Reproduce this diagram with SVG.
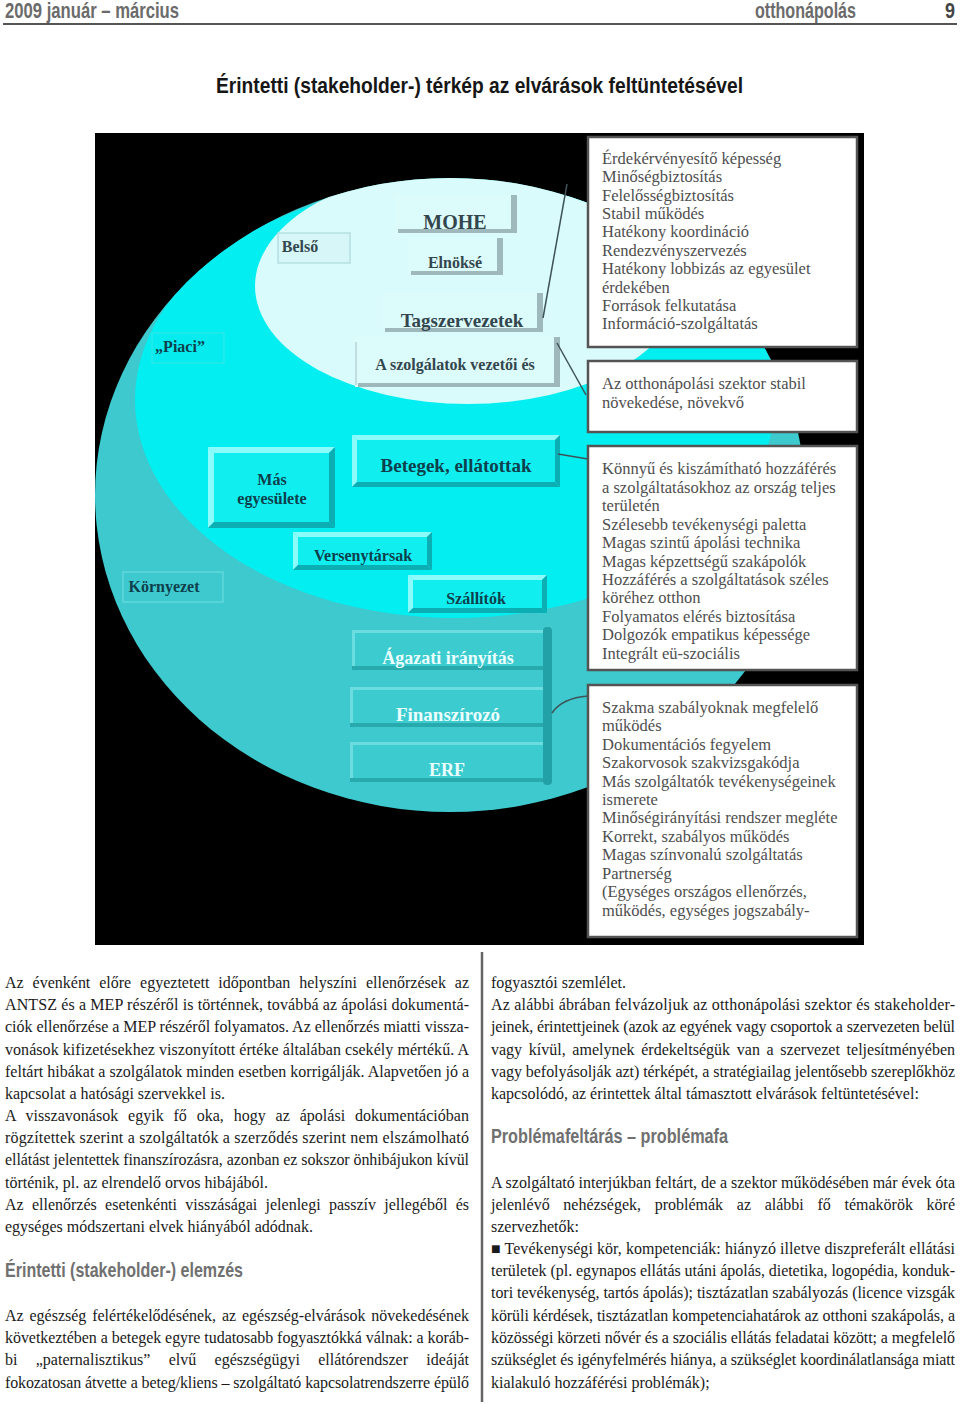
<svg xmlns="http://www.w3.org/2000/svg" width="960" height="1404" viewBox="0 0 960 1404">
<style>
.hdr{font-family:"Liberation Sans",Arial,sans-serif;font-weight:bold;font-size:22px;fill:#6b6b6b}
.ttl{font-family:"Liberation Sans",Arial,sans-serif;font-weight:bold;font-size:22px;fill:#161616}
.h2{font-family:"Liberation Sans",Arial,sans-serif;font-weight:bold;font-size:21px;fill:#707070}
.body{font-family:"Liberation Serif","Times New Roman",serif;font-size:16px;fill:#1a1a1a}
.lp{font-family:"Liberation Serif","Times New Roman",serif;font-weight:bold;fill:#34464d;text-anchor:middle}
.lc{font-family:"Liberation Serif","Times New Roman",serif;font-weight:bold;fill:#0e3f4c;text-anchor:middle}
.lw{font-family:"Liberation Serif","Times New Roman",serif;font-weight:bold;fill:#eaffff;text-anchor:middle}
.exp{font-family:"Liberation Serif","Times New Roman",serif;font-size:16.5px;fill:#4e4e4e}
.wbox{fill:#ffffff;stroke:#545454;stroke-width:2.5}
.conn{fill:none;stroke:#3e5258;stroke-width:1.5}
.lt{fill:#8cfbfc}
.dk{fill:#0aaeb3}
.tl{fill:#6bdde0}
.td{fill:#27a9ad}
.sh{fill:#9fb8bb}
</style>
<defs>
<clipPath id="outer"><ellipse cx="450" cy="495" rx="355" ry="317"/></clipPath>
</defs>

<!-- header -->
<g id="header">
<text class="hdr" x="5" y="18" textLength="174" lengthAdjust="spacingAndGlyphs">2009 január – március</text>
<text class="hdr" x="755" y="18" textLength="101" lengthAdjust="spacingAndGlyphs">otthonápolás</text>
<text class="hdr" x="945" y="18" textLength="10" lengthAdjust="spacingAndGlyphs" style="fill:#444">9</text>
<line x1="3" y1="24" x2="957" y2="24" stroke="#555" stroke-width="2"/>
</g>

<text class="ttl" x="216" y="93" textLength="527" lengthAdjust="spacingAndGlyphs">Érintetti (stakeholder-) térkép az elvárások feltüntetésével</text>

<!-- diagram background -->
<g id="background">
<rect x="95" y="133" width="769" height="812" fill="#000"/>
<ellipse cx="450" cy="495" rx="355" ry="317" fill="#3dc9cd"/>
<g clip-path="url(#outer)">
<ellipse cx="455" cy="400" rx="320" ry="218" fill="#02eef0"/>
<ellipse cx="468" cy="286" rx="213" ry="118" fill="#d9fbfb"/>
</g>
</g>

<!-- inner (pale) zone -->
<g id="belso">
<rect x="278" y="233" width="72" height="30" fill="#d6f6f7" stroke="#b4dfe3" stroke-width="1.5"/>
<text class="lp" x="300" y="252" font-size="16">Belső</text>
</g>
<g id="mohe">
<rect x="395" y="195" width="122" height="38" fill="#dcfbfb"/>
<rect class="sh" x="511" y="195" width="6" height="38"/>
<rect class="sh" x="398" y="229" width="119" height="4"/>
<text class="lp" x="455" y="229" font-size="20">MOHE</text>
</g>
<g id="elnokse">
<rect x="408" y="238" width="95" height="37" fill="#dcfbfb"/>
<rect class="sh" x="497" y="238" width="6" height="37"/>
<rect class="sh" x="411" y="271" width="92" height="4"/>
<text class="lp" x="455" y="268" font-size="16">Elnöksé</text>
</g>
<g id="tagszervezetek">
<rect x="382" y="293" width="161" height="39" fill="#dcfbfb"/>
<rect class="sh" x="537" y="293" width="6" height="39"/>
<rect class="sh" x="385" y="328" width="158" height="4"/>
<text class="lp" x="462" y="327" font-size="19">Tagszervezetek</text>
</g>
<g id="szolgalatok">
<rect x="355" y="337" width="205" height="50" fill="#dcfbfb"/>
<rect x="355" y="342" width="2" height="43" fill="#c2dcdf"/>
<rect class="sh" x="554" y="337" width="6" height="50"/>
<rect class="sh" x="358" y="383" width="202" height="4"/>
<text class="lp" x="455" y="370" font-size="16">A szolgálatok vezetői és</text>
</g>

<!-- middle (bright cyan) zone -->
<g id="piaci">
<rect x="152" y="333" width="72" height="30" fill="#06ecee" stroke="#3ae6e8" stroke-width="1"/>
<text class="lc" x="180" y="352" font-size="16">„Piaci”</text>
</g>
<g id="betegek">
<rect x="352" y="435" width="208" height="52" fill="#10eef0"/>
<polygon class="lt" points="352,435 560,435 555,440 357,440"/>
<polygon class="lt" points="352,435 357,440 357,482 352,487"/>
<polygon class="dk" points="352,487 560,487 555,482 357,482"/>
<polygon class="dk" points="560,435 560,487 555,482 555,440"/>
<text class="lc" x="456" y="472" font-size="19">Betegek, ellátottak</text>
</g>
<g id="mas">
<rect x="208" y="447" width="127" height="81" fill="#10eef0"/>
<polygon class="lt" points="208,447 335,447 329,453 214,453"/>
<polygon class="lt" points="208,447 214,453 214,522 208,528"/>
<polygon class="dk" points="208,528 335,528 329,522 214,522"/>
<polygon class="dk" points="335,447 335,528 329,522 329,453"/>
<text class="lc" x="272" y="485" font-size="16">Más</text>
<text class="lc" x="272" y="504" font-size="16">egyesülete</text>
</g>
<g id="versenytarsak">
<rect x="293" y="532" width="139" height="38" fill="#10eef0"/>
<polygon class="lt" points="293,532 432,532 427,537 298,537"/>
<polygon class="lt" points="293,532 298,537 298,565 293,570"/>
<polygon class="dk" points="293,570 432,570 427,565 298,565"/>
<polygon class="dk" points="432,532 432,570 427,565 427,537"/>
<text class="lc" x="363" y="561" font-size="16">Versenytársak</text>
</g>
<g id="szallitok">
<rect x="408" y="575" width="139" height="38" fill="#10eef0"/>
<polygon class="lt" points="408,575 547,575 542,580 413,580"/>
<polygon class="lt" points="408,575 413,580 413,608 408,613"/>
<polygon class="dk" points="408,613 547,613 542,608 413,608"/>
<polygon class="dk" points="547,575 547,613 542,608 542,580"/>
<text class="lc" x="476" y="604" font-size="16">Szállítók</text>
</g>

<!-- outer (teal) zone -->
<g id="kornyezet">
<rect x="123" y="572" width="100" height="30" fill="#3dc9cd" stroke="#62d8db" stroke-width="1.5"/>
<text class="lc" x="164" y="592" font-size="16">Környezet</text>
</g>
<g id="agazati">
<rect x="352" y="630" width="196" height="40" fill="#3ccbcf"/>
<rect class="tl" x="352" y="630" width="196" height="3"/>
<rect class="tl" x="352" y="630" width="3" height="40"/>
<rect class="td" x="352" y="666" width="196" height="4"/>
<text class="lw" x="448" y="664" font-size="18">Ágazati irányítás</text>
</g>
<g id="finanszirozo">
<rect x="350" y="687" width="198" height="40" fill="#3ccbcf"/>
<rect class="tl" x="350" y="687" width="198" height="3"/>
<rect class="tl" x="350" y="687" width="3" height="40"/>
<rect class="td" x="350" y="723" width="198" height="4"/>
<text class="lw" x="448" y="721" font-size="19">Finanszírozó</text>
</g>
<g id="erf">
<rect x="350" y="742" width="200" height="40" fill="#3ccbcf"/>
<rect class="tl" x="350" y="742" width="200" height="3"/>
<rect class="tl" x="350" y="742" width="3" height="40"/>
<rect class="td" x="350" y="778" width="200" height="4"/>
<text class="lw" x="447" y="776" font-size="18">ERF</text>
</g>
<rect x="543" y="627" width="9" height="158" rx="4" fill="#22a2a6"/>

<!-- connectors -->
<g id="connectors">
<path class="conn" d="M567,184 L543,318"/>
<path class="conn" d="M557,343 L586,395"/>
<path class="conn" d="M558,454 L588,459"/>
<path class="conn" d="M552,713 Q562,698 588,696"/>
</g>

<!-- expectation boxes -->
<g id="exp1">
<rect class="wbox" x="588" y="137" width="269" height="210"/>
<text class="exp" x="602" y="164">Érdekérvényesítő képesség</text>
<text class="exp" x="602" y="182">Minőségbiztosítás</text>
<text class="exp" x="602" y="201">Felelősségbiztosítás</text>
<text class="exp" x="602" y="219">Stabil működés</text>
<text class="exp" x="602" y="237">Hatékony koordináció</text>
<text class="exp" x="602" y="256">Rendezvényszervezés</text>
<text class="exp" x="602" y="274">Hatékony lobbizás az egyesület</text>
<text class="exp" x="602" y="293">érdekében</text>
<text class="exp" x="602" y="311">Források felkutatása</text>
<text class="exp" x="602" y="329">Információ-szolgáltatás</text>
</g>
<g id="exp2">
<rect class="wbox" x="588" y="361" width="269" height="71"/>
<text class="exp" x="602" y="389">Az otthonápolási szektor stabil</text>
<text class="exp" x="602" y="408">növekedése, növekvő</text>
</g>
<g id="exp3">
<rect class="wbox" x="588" y="446" width="269" height="224"/>
<text class="exp" x="602" y="474">Könnyű és kiszámítható hozzáférés</text>
<text class="exp" x="602" y="493">a szolgáltatásokhoz az ország teljes</text>
<text class="exp" x="602" y="511">területén</text>
<text class="exp" x="602" y="530">Szélesebb tevékenységi paletta</text>
<text class="exp" x="602" y="548">Magas szintű ápolási technika</text>
<text class="exp" x="602" y="567">Magas képzettségű szakápolók</text>
<text class="exp" x="602" y="585">Hozzáférés a szolgáltatások széles</text>
<text class="exp" x="602" y="603">köréhez otthon</text>
<text class="exp" x="602" y="622">Folyamatos elérés biztosítása</text>
<text class="exp" x="602" y="640">Dolgozók empatikus képessége</text>
<text class="exp" x="602" y="659">Integrált eü-szociális</text>
</g>
<g id="exp4">
<rect class="wbox" x="588" y="685" width="269" height="252"/>
<text class="exp" x="602" y="713">Szakma szabályoknak megfelelő</text>
<text class="exp" x="602" y="731">működés</text>
<text class="exp" x="602" y="750">Dokumentációs fegyelem</text>
<text class="exp" x="602" y="768">Szakorvosok szakvizsgakódja</text>
<text class="exp" x="602" y="787">Más szolgáltatók tevékenységeinek</text>
<text class="exp" x="602" y="805">ismerete</text>
<text class="exp" x="602" y="823">Minőségirányítási rendszer megléte</text>
<text class="exp" x="602" y="842">Korrekt, szabályos működés</text>
<text class="exp" x="602" y="860">Magas színvonalú szolgáltatás</text>
<text class="exp" x="602" y="879">Partnerség</text>
<text class="exp" x="602" y="897">(Egységes országos ellenőrzés,</text>
<text class="exp" x="602" y="916">működés, egységes jogszabály-</text>
</g>

<!-- body text left column -->
<g id="col-left">
<text class="body" x="5" y="988" word-spacing="4.9" textLength="464" lengthAdjust="spacing">Az évenként előre egyeztetett időpontban helyszíni ellenőrzések az</text>
<text class="body" x="5" y="1010" textLength="464" lengthAdjust="spacing">ANTSZ és a MEP részéről is történnek, továbbá az ápolási dokumentá-</text>
<text class="body" x="5" y="1032" textLength="464" lengthAdjust="spacing">ciók ellenőrzése a MEP részéről folyamatos. Az ellenőrzés miatti vissza-</text>
<text class="body" x="5" y="1055" textLength="464" lengthAdjust="spacing">vonások kifizetésekhez viszonyított értéke általában csekély mértékű. A</text>
<text class="body" x="5" y="1077" textLength="464" lengthAdjust="spacing">feltárt hibákat a szolgálatok minden esetben korrigálják. Alapvetően jó a</text>
<text class="body" x="5" y="1099">kapcsolat a hatósági szervekkel is.</text>
<text class="body" x="5" y="1121" word-spacing="5.8" textLength="464" lengthAdjust="spacing">A visszavonások egyik fő oka, hogy az ápolási dokumentációban</text>
<text class="body" x="5" y="1143" textLength="464" lengthAdjust="spacing">rögzítettek szerint a szolgáltatók a szerződés szerint nem elszámolható</text>
<text class="body" x="5" y="1165" textLength="464" lengthAdjust="spacing">ellátást jelentettek finanszírozásra, azonban ez sokszor önhibájukon kívül</text>
<text class="body" x="5" y="1188">történik, pl. az elrendelő orvos hibájából.</text>
<text class="body" x="5" y="1210" word-spacing="4.3" textLength="464" lengthAdjust="spacing">Az ellenőrzés esetenkénti visszáságai jelenlegi passzív jellegéből és</text>
<text class="body" x="5" y="1232">egységes módszertani elvek hiányából adódnak.</text>
<text class="h2" x="5" y="1277" textLength="238" lengthAdjust="spacingAndGlyphs">Érintetti (stakeholder-) elemzés</text>
<text class="body" x="5" y="1321" word-spacing="1.8" textLength="464" lengthAdjust="spacing">Az egészség felértékelődésének, az egészség-elvárások növekedésének</text>
<text class="body" x="5" y="1343" textLength="464" lengthAdjust="spacing">következtében a betegek egyre tudatosabb fogyasztókká válnak: a koráb-</text>
<text class="body" x="5" y="1365" word-spacing="14.3" textLength="464" lengthAdjust="spacing">bi „paternalisztikus” elvű egészségügyi ellátórendszer ideáját</text>
<text class="body" x="5" y="1388" textLength="464" lengthAdjust="spacing">fokozatosan átvette a beteg/kliens – szolgáltató kapcsolatrendszerre épülő</text>
</g>

<line x1="482" y1="952" x2="482" y2="1402" stroke="#666" stroke-width="2.5"/>

<!-- body text right column -->
<g id="col-right">
<text class="body" x="491" y="988">fogyasztói szemlélet.</text>
<text class="body" x="491" y="1010" textLength="464" lengthAdjust="spacing">Az alábbi ábrában felvázoljuk az otthonápolási szektor és stakeholder-</text>
<text class="body" x="491" y="1032" textLength="464" lengthAdjust="spacing">jeinek, érintettjeinek (azok az egyének vagy csoportok a szervezeten belül</text>
<text class="body" x="491" y="1055" word-spacing="2.7" textLength="464" lengthAdjust="spacing">vagy kívül, amelynek érdekeltségük van a szervezet teljesítményében</text>
<text class="body" x="491" y="1077" textLength="464" lengthAdjust="spacing">vagy befolyásolják azt) térképét, a stratégiailag jelentősebb szereplőkhöz</text>
<text class="body" x="491" y="1099">kapcsolódó, az érintettek által támasztott elvárások feltüntetésével:</text>
<text class="h2" x="491" y="1143" textLength="237" lengthAdjust="spacingAndGlyphs">Problémafeltárás – problémafa</text>
<text class="body" x="491" y="1188" textLength="464" lengthAdjust="spacing">A szolgáltató interjúkban feltárt, de a szektor működésében már évek óta</text>
<text class="body" x="491" y="1210" word-spacing="9.7" textLength="464" lengthAdjust="spacing">jelenlévő nehézségek, problémák az alábbi fő témakörök köré</text>
<text class="body" x="491" y="1232">szervezhetők:</text>
<text class="body" x="491" y="1254" textLength="464" lengthAdjust="spacing">■ Tevékenységi kör, kompetenciák: hiányzó illetve diszpreferált ellátási</text>
<text class="body" x="491" y="1276" textLength="464" lengthAdjust="spacing">területek (pl. egynapos ellátás utáni ápolás, dietetika, logopédia, konduk-</text>
<text class="body" x="491" y="1298" textLength="464" lengthAdjust="spacing">tori tevékenység, tartós ápolás); tisztázatlan szabályozás (licence vizsgák</text>
<text class="body" x="491" y="1321" textLength="464" lengthAdjust="spacing">körüli kérdések, tisztázatlan kompetenciahatárok az otthoni szakápolás, a</text>
<text class="body" x="491" y="1343" textLength="464" lengthAdjust="spacing">közösségi körzeti nővér és a szociális ellátás feladatai között; a megfelelő</text>
<text class="body" x="491" y="1365" textLength="464" lengthAdjust="spacing">szükséglet és igényfelmérés hiánya, a szükséglet koordinálatlansága miatt</text>
<text class="body" x="491" y="1388">kialakuló hozzáférési problémák);</text>
</g>
</svg>
